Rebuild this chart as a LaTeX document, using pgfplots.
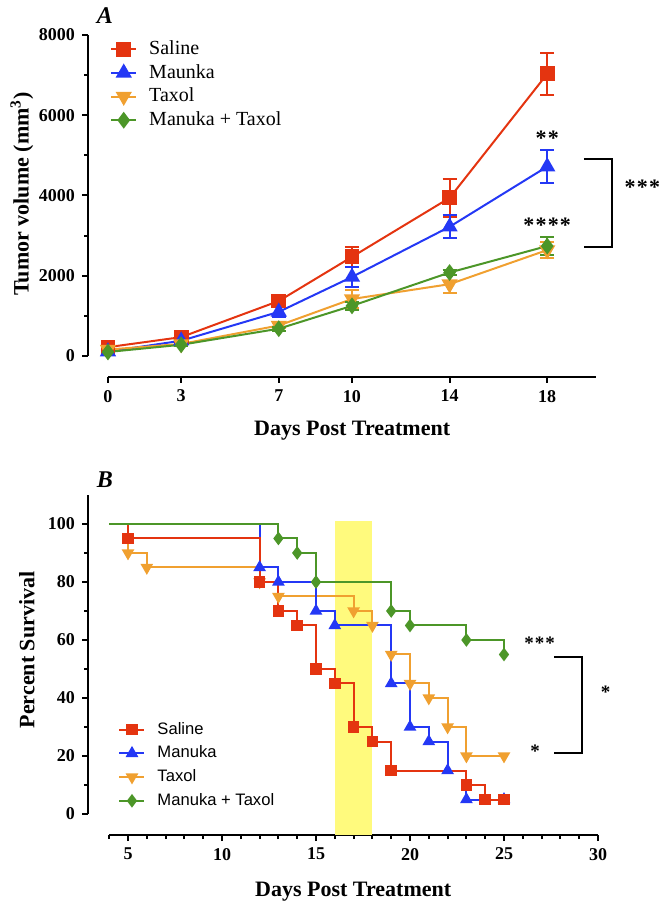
\documentclass[border=0pt]{standalone}
\usepackage{fontspec}
\setmainfont{Liberation Serif}
\setsansfont{Liberation Sans}
\usepackage{pgfplots}
\pgfplotsset{compat=1.18}

\definecolor{cred}{RGB}{228,52,16}
\definecolor{cblue}{RGB}{36,56,245}
\definecolor{corange}{RGB}{240,160,48}
\definecolor{cgreen}{RGB}{76,150,40}
\definecolor{cyel}{RGB}{255,250,125}

\pgfplotsset{
  gp/.style={scale only axis, clip=false,
    axis x line*=bottom, axis y line*=left, axis line style={draw=none},
    tick align=outside, major tick length=3pt, minor tick length=2pt,
    tick style={black, line width=1pt},
    ticklabel style={font=\bfseries\fontsize{9}{10}\selectfont},
    /pgf/number format/assume math mode=true, /pgf/number format/1000 sep={},
    scaled ticks=false,
    label style={font=\bfseries\fontsize{11}{12}\selectfont},
    legend cell align=left,
    legend image code/.code={\draw[##1, mark repeat=2, mark phase=2] plot coordinates {(0pt,0pt) (6.25pt,0pt) (12.5pt,0pt)};}},
  ebar/.style={error bars/.cd, y dir=both, y explicit,
    error bar style={line width=1pt},
    error mark options={rotate=90, mark size=3.5pt, line width=1pt}},
}

\begin{document}
\begin{tikzpicture}
\useasboundingbox (0,0) rectangle (332pt,454pt);

% ---------------- Panel A ----------------
\begin{axis}[gp, at={(44pt,265.5pt)}, anchor=south west,
  width=254pt, height=171pt,
  xmin=-0.818, xmax=20, ymin=-523, ymax=8000,
  xtick={0,3,7,10,14,18}, ytick={0,2000,4000,6000,8000},
  minor ytick={1000,3000,5000,7000},
  xlabel={Days Post Treatment},
  ylabel={Tumor volume (mm\textsuperscript{3})},
  xlabel style={at={(rel axis cs:0.52,-0.158)}, anchor=center},
  ylabel style={at={(rel axis cs:-0.13,0.535)}, anchor=center},
  legend style={draw=none, fill=none, at={(rel axis cs:0.043,0.996)}, anchor=north west,
    font=\fontsize{10}{11}\selectfont, row sep=-0.6pt, column sep=4pt, inner sep=0pt},
]
\draw[line width=1.2pt] (axis cs:-0.818,0) -- (axis cs:-0.818,8000);
\draw[line width=1.2pt] (axis cs:0,-523) -- (axis cs:20,-523);

\addplot[cred, line width=1pt, mark=square*, mark size=3.2pt, ebar]
  coordinates {(0,220) +- (0,60) (3,470) +- (0,60) (7,1370) +- (0,80)
               (10,2470) +- (0,250) (14,3940) +- (0,470) (18,7030) +- (0,520)};
\addlegendentry{Saline}
\addplot[cblue, line width=1pt, mark=triangle*, mark size=3.7pt, ebar]
  coordinates {(0,110) +- (0,40) (3,380) +- (0,50) (7,1100) +- (0,130)
               (10,1970) +- (0,240) (14,3220) +- (0,290) (18,4720) +- (0,410)};
\addlegendentry{Maunka}
\addplot[corange, line width=1pt, mark=triangle*, mark size=3.7pt, mark options={rotate=180}, ebar]
  coordinates {(0,160) +- (0,40) (3,300) +- (0,40) (7,760) +- (0,60)
               (10,1420) +- (0,230) (14,1790) +- (0,220) (18,2640) +- (0,200)};
\addlegendentry{Taxol}
\addplot[cgreen, line width=1pt, mark=diamond*, mark size=3.4pt, ebar]
  coordinates {(0,100) +- (0,30) (3,280) +- (0,40) (7,680) +- (0,50)
               (10,1250) +- (0,100) (14,2080) +- (0,60) (18,2740) +- (0,230)};
\addlegendentry{Manuka + Taxol}

\node[font=\bfseries\fontsize{11}{12}\selectfont, yshift=-2.5pt] at (axis cs:18,5560) {*\kern0.6pt*};
\node[font=\bfseries\fontsize{11}{12}\selectfont, yshift=-2.5pt] at (axis cs:18,3390) {*\kern0.6pt*\kern0.6pt*\kern0.6pt*};
\node[font=\bfseries\fontsize{11}{12}\selectfont, yshift=-2.5pt] at (axis cs:21.9,4340) {*\kern0.6pt*\kern0.6pt*};
\draw[line width=1pt] (axis cs:19.5,4910) -| (axis cs:20.66,2720) -- (axis cs:19.5,2720);
\node[font=\bfseries\itshape\fontsize{12}{13}\selectfont] at (rel axis cs:0.033,1.056) {A};
\end{axis}

% ---------------- Panel B ----------------
\begin{axis}[gp, at={(44pt,36.5pt)}, anchor=south west,
  width=255pt, height=170pt,
  xmin=2.872, xmax=30, ymin=-7.24, ymax=110,
  xtick={5,10,...,30}, minor xtick={4,...,30},
  ytick={0,20,...,100}, minor ytick={10,30,...,90},
  xlabel={Days Post Treatment},
  ylabel={Percent Survival},
  xlabel style={at={(rel axis cs:0.52,-0.168)}, anchor=center},
  ylabel style={at={(rel axis cs:-0.12,0.544)}, anchor=center},
  legend style={draw=none, fill=none, at={(rel axis cs:0.059,0.345)}, anchor=north west,
    font=\sffamily\fontsize{8.3}{9.5}\selectfont, row sep=0.35pt, column sep=4pt, inner sep=0pt},
]
\draw[line width=1.2pt] (axis cs:2.872,0) -- (axis cs:2.872,110);
\draw[line width=1.2pt] (axis cs:4,-7.24) -- (axis cs:30,-7.24);

\addplot[fill=cyel, draw=none, forget plot]
  coordinates {(16,-7.24) (16,101) (18,101) (18,-7.24)} -- cycle;

\addplot[corange, line width=1pt, const plot, mark=triangle*, mark size=2.7pt,
  mark options={rotate=180}, mark indices={2,3,4,5,6,7,8,9,10,11,12,13}, forget plot]
  coordinates {(4,100) (5,90) (6,85) (12,80) (13,75) (17,70) (18,65) (19,55)
               (20,45) (21,40) (22,30) (23,20) (25,20)};
\addplot[cblue, line width=1pt, const plot, mark=triangle*, mark size=2.7pt,
  mark indices={2,3,4,5,6,7,8,9,10,11}, forget plot]
  coordinates {(4,100) (12,85) (13,80) (15,70) (16,65) (19,45) (20,30) (21,25)
               (22,15) (23,5) (25,5)};
\addplot[cred, line width=1pt, const plot, mark=square*, mark size=2.4pt,
  mark indices={2,3,4,5,6,7,8,9,10,11,12,13}, forget plot]
  coordinates {(4,100) (5,95) (12,80) (13,70) (14,65) (15,50) (16,45) (17,30)
               (18,25) (19,15) (23,10) (24,5) (25,5)};
\addplot[cgreen, line width=1pt, const plot, mark=diamond*, mark size=2.6pt,
  mark indices={2,3,4,5,6,7,8}, forget plot]
  coordinates {(4,100) (13,95) (14,90) (15,80) (19,70) (20,65) (23,60) (25,55)};

\addlegendimage{cred, line width=1pt, mark=square*, mark size=2.4pt}
\addlegendentry{Saline}
\addlegendimage{cblue, line width=1pt, mark=triangle*, mark size=2.7pt}
\addlegendentry{Manuka}
\addlegendimage{corange, line width=1pt, mark=triangle*, mark size=2.7pt, mark options={rotate=180}}
\addlegendentry{Taxol}
\addlegendimage{cgreen, line width=1pt, mark=diamond*, mark size=2.6pt}
\addlegendentry{Manuka + Taxol}

\node[font=\bfseries\fontsize{9.5}{11}\selectfont, yshift=-2pt] at (axis cs:26.9,60.3) {*\kern0.5pt*\kern0.5pt*};
\node[font=\bfseries\fontsize{9.5}{11}\selectfont, yshift=-2pt] at (axis cs:30.4,43.4) {*};
\node[font=\bfseries\fontsize{9.5}{11}\selectfont, yshift=-2pt] at (axis cs:26.65,23) {*};
\draw[line width=1pt] (axis cs:27.66,54) -| (axis cs:29.15,21) -- (axis cs:27.66,21);
\node[font=\bfseries\itshape\fontsize{12}{13}\selectfont] at (rel axis cs:0.033,1.044) {B};
\end{axis}
\end{tikzpicture}
\end{document}
